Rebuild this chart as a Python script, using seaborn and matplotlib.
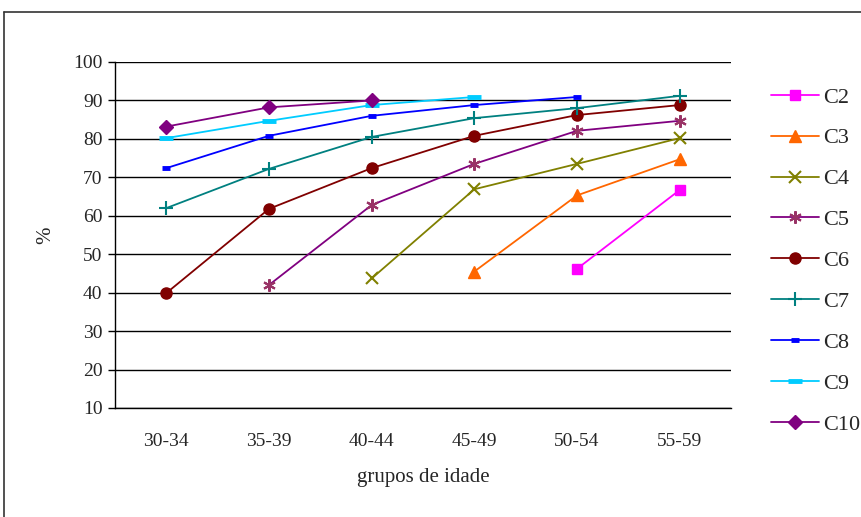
import numpy as np
import pandas as pd
import matplotlib
matplotlib.use("Agg")
import matplotlib.pyplot as plt
import seaborn as sns
from matplotlib.lines import Line2D

groups = ["30-34", "35-39", "40-44", "45-49", "50-54", "55-59"]
nan = np.nan
C2 = [nan, nan, nan, nan, 46.2, 66.7]
C3 = [nan, nan, nan, 45.5, 65.3, 74.7]
C4 = [nan, nan, 43.7, 66.9, 73.5, 80.2]
C5 = [nan, 42.0, 62.8, 73.5, 82.1, 84.7]
C6 = [39.9, 61.8, 72.4, 80.8, 86.2, 88.8]
C7 = [62.0, 72.2, 80.5, 85.4, 88.0, 91.2]
C8 = [72.4, 80.8, 86.0, 88.8, 90.9, nan]
C9 = [80.2, 84.7, 88.8, 90.9, nan, nan]
C10 = [83.2, 88.2, 90.0, nan, nan, nan]

series_names = ["C2", "C3", "C4", "C5", "C6", "C7", "C8", "C9", "C10"]
series_vals = [C2, C3, C4, C5, C6, C7, C8, C9, C10]

styles = {
    "C2": dict(color="#FF00FF", marker="s", ms=7, mfc="#FF00FF", mec="#FF00FF", mew=1),
    "C3": dict(color="#FF6600", marker="^", ms=8, mfc="#FF6600", mec="#FF6600", mew=1),
    "C4": dict(color="#808000", marker="x", ms=8, mfc="none", mec="#808000", mew=1.5),
    "C5": dict(color="#800080", marker=(6, 2, 0), ms=9, mfc="none", mec="#993366", mew=1.5),
    "C6": dict(color="#800000", marker="o", ms=8, mfc="#800000", mec="#800000", mew=1),
    "C7": dict(color="#008080", marker="+", ms=10, mfc="none", mec="#008080", mew=1.5),
    "C8": dict(color="#0000FF", marker="_", ms=6, mfc="#0000FF", mec="#0000FF", mew=3.5),
    "C9": dict(color="#00CCFF", marker="_", ms=10, mfc="#00CCFF", mec="#00CCFF", mew=3.5),
    "C10": dict(color="#800080", marker="D", ms=7.5, mfc="#800080", mec="#800080", mew=1),
}

sns.set_theme(style="white")
plt.rcParams["font.family"] = ["Liberation Serif", "DejaVu Serif"]

fig = plt.figure(figsize=(8.61, 5.17), dpi=100)
ax = fig.add_axes([115 / 861, 1 - 408 / 517, (731 - 115) / 861, (408 - 62) / 517])

xpos = np.arange(len(groups))
handles = []
for name, vals in zip(series_names, series_vals):
    st = styles[name]
    df = pd.DataFrame({"x": xpos, "y": vals}).dropna()
    sns.lineplot(data=df, x="x", y="y", ax=ax, color=st["color"], linewidth=1.3,
                 marker=st["marker"], markersize=st["ms"], markerfacecolor=st["mfc"],
                 markeredgecolor=st["mec"], markeredgewidth=st["mew"], legend=False)
    handles.append(Line2D([], [], color=st["color"], linewidth=1.3, marker=st["marker"],
                          markersize=st["ms"], markerfacecolor=st["mfc"],
                          markeredgecolor=st["mec"], markeredgewidth=st["mew"], label=name))

ax.set_xlim(-0.5, len(groups) - 0.5)
ax.set_ylim(10, 100)
ax.set_yticks(np.arange(10, 101, 10))
ax.set_xticks(xpos)
ax.set_xticklabels(groups)
ax.yaxis.grid(True, color="black", linewidth=1)
ax.xaxis.grid(False)
ax.set_axisbelow(True)
for s in ["top", "right"]:
    ax.spines[s].set_visible(False)
for s in ["left", "bottom"]:
    ax.spines[s].set_color("black")
    ax.spines[s].set_linewidth(1)
ax.tick_params(axis="y", left=True, length=5, width=1, color="black", labelsize=14, pad=4)
ax.tick_params(axis="x", bottom=False, labelsize=14, pad=12)
ax.set_xlabel("grupos de idade", fontsize=15, labelpad=13)
ax.set_ylabel("%", fontsize=15, labelpad=13)

fig.legend(handles=handles, loc="upper left", bbox_to_anchor=(771 / 861, 1 - 87 / 517),
           frameon=False, fontsize=16, handlelength=2.15, handletextpad=0.2,
           labelspacing=0.915, borderpad=0, borderaxespad=0)

# outer frame
fig.add_artist(Line2D([4 / 861, 4 / 861], [0, 1 - 12 / 517], transform=fig.transFigure,
                      color="#333333", linewidth=1.2))
fig.add_artist(Line2D([4 / 861, 1], [1 - 12 / 517, 1 - 12 / 517], transform=fig.transFigure,
                      color="#333333", linewidth=1.2))

fig.savefig("out.png", dpi=100)
